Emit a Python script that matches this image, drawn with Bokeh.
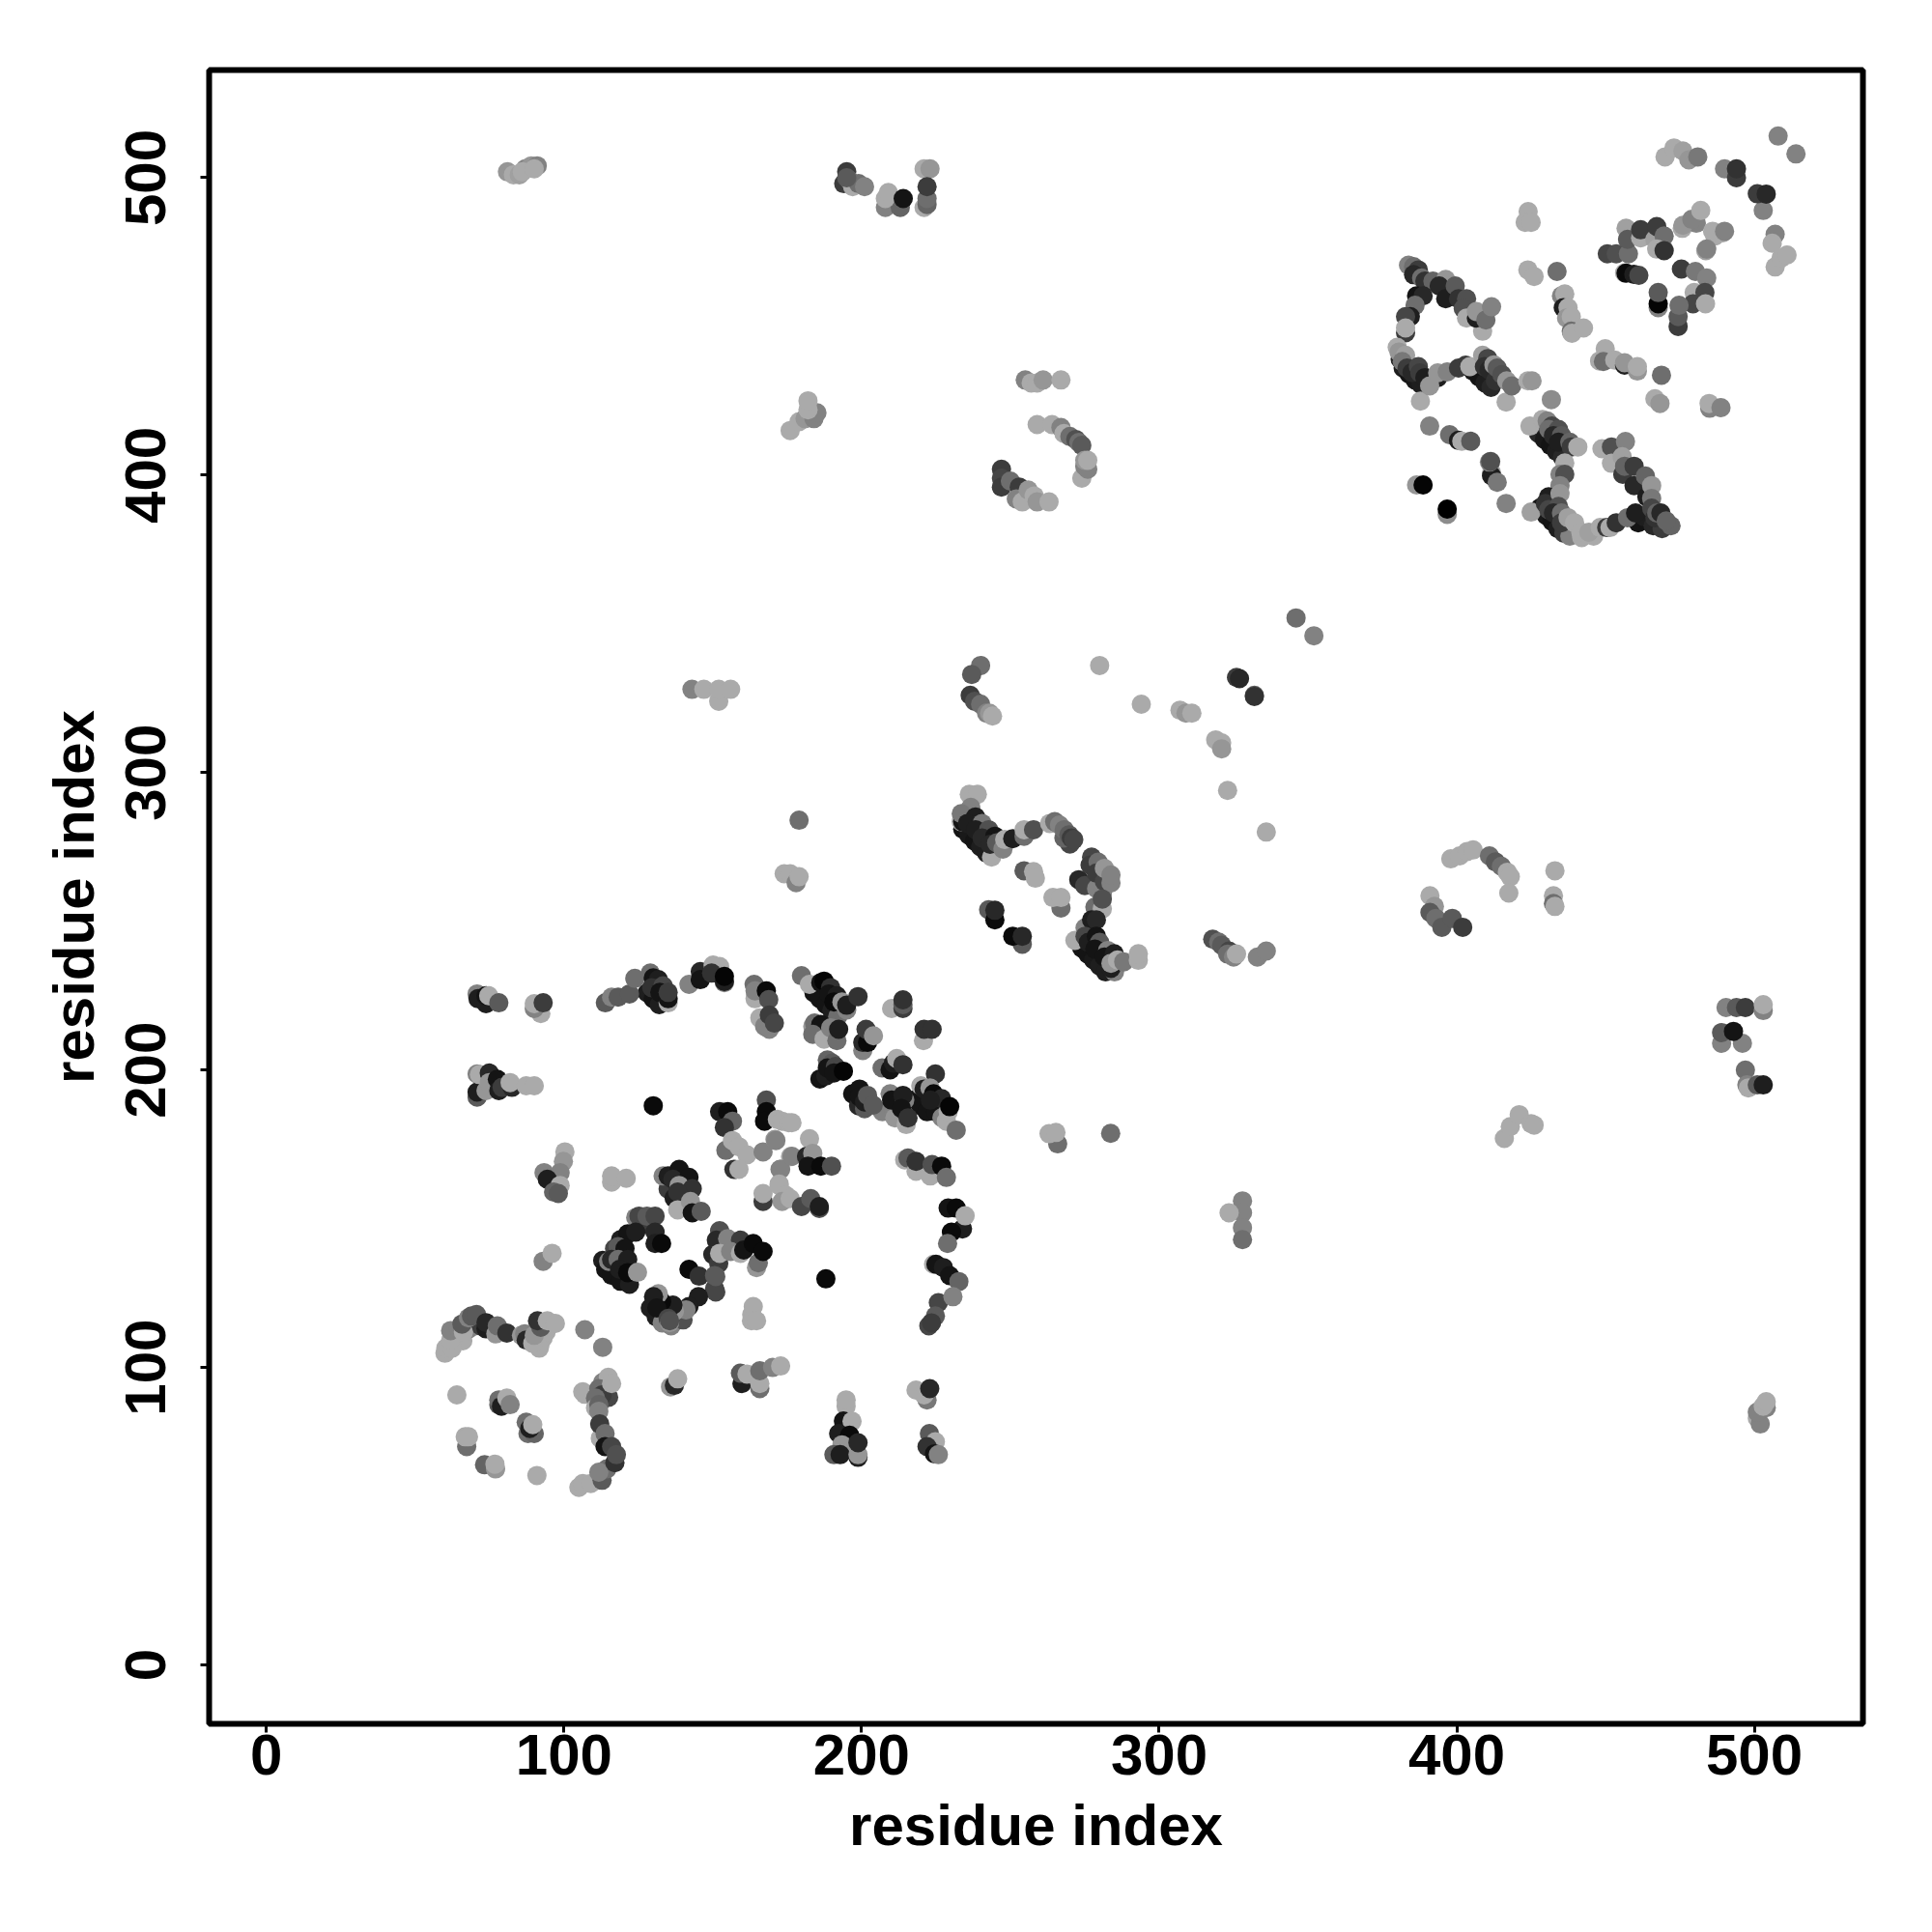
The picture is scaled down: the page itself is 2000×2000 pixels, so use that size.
from bokeh.plotting import figure
from bokeh.models import Range1d, FixedTicker, ColumnDataSource
from bokeh.embed import file_html
from bokeh.resources import INLINE

# every entry: (residue i, residue j, grey level 0-255)
under_loop = [(382,436,30),(384,434,20),(386,432,25),(388,430.5,30),(381,439,40),(405.5,435,25),(407.5,433,20),(409.5,431,30),(411.5,429.5,40),(403,437,60),(427.5,414,40),(429.5,412,25),(431.5,410,20),(433.5,408,30),(435.5,406,40),(428,389,20),(430,386.5,25),(432,384.5,20),(434,382,30),(436,380.5,60),(438,379.5,130),(442,379,170),(446,379.5,170),(461,384,20),(463,386,30),(466,383,40),(469,382,60),(472,383,100)]
under_mid = [(234,281,20),(236,279,25),(238,277,20),(240,275,30),(242,273,30),(270,276,70),(268,278,100),(273,264,40),(275,262,70),(279,261,130),(281,260,130),(274,241,20),(276,239,20),(278,237,25),(280,235,30),(282,233,30),(285,233,130)]
under_low = [(184,226,20),(186,224,20),(188,222,20),(190,220,30),(192,218,110),(128,226,30),(130,224,20),(132,222,30),(186,197,20),(188,198,30),(197,192,20),(199,188,40),(201,187,90),(218,190,20),(220,188,20),(222,186,20),(225,186,20),(227,184,130),(207,186,130),(211,186,130),(213,184,150),(113,136,30),(114,133,20),(116,131,20),(119,129,20),(122,128,30),(129,120,30),(131,117,30),(133,115,130),(136,114,130),(140,116,80),(150,138,40),(152,135,60),(128,148,60),(119,143,30),(117,140,70),(135,160,60),(137,157,30),(139,155,30),(110,91,130),(112,88,90),(113,95,130),(114,92,100),(115,90,70),(64,110,170),(66,109,170),(68,113,130),(70,114,130),(72,114,60),(92,108,170),(93,110,170),(94,112,170)]
far_a = [(81,502,150),(83,501,170),(85,501,160),(87,503,130),(89,504,150),(91,504,130),(86,502,170),(90,503,170)]
far_b = [(195,502,60),(194,498,60),(196,499,130),(197,497,170),(199,498,110),(195,500,90),(201,497,130)]
far_c = [(208,490,130),(213,490,100),(208,493,170),(209,495,170),(214,493,20),(221,490,170),(222,491,100),(222,493,110),(221,503,170),(223,503,150),(222,497,60)]
far_d = [(176,415,170),(179,418,170),(181,419,150),(184,419,130),(185,421,130),(182,422,170),(182,425,170)]
mid_e = [(255,432,130),(257,431,170),(259,431,170),(261,432,150),(267,432,170)]
mid_f = [(259,417,170),(264,417,170),(267,416,130),(268,414,170),(270,413,110),(272,412,80),(273,411,110),(274,410,90),(274,399,170),(275,403,130),(276,402,130),(275,405,150),(276,405,170)]
mid_g = [(247,402,60),(247,399,70),(247,396,60),(250,398,110),(253,396,60),(252,392,130),(254,391,170),(256,395,150),(258,393,170),(259,391,150),(263,391,170)]
loop_up = [(383.8,470.6,130),(385.5,470.1,110),(387.1,469,60),(385.5,467.4,40),(388.2,466.3,110),(389.3,465.2,50),(392,465.2,100),(396.3,465.8,150),(394.1,463.6,40),(396.3,459.3,30),(399.5,463.6,90),(400.6,459.3,50),(403.3,459.3,80),(402.2,456,80),(403.3,452.8,170),(408.7,448.4,170),(406.6,452.8,30),(406.6,455,150),(409.8,452.2,110),(411.7,456.6,130),(386.5,460.3,20),(388.7,460.3,40),(386,457.1,110),(384.4,453.3,30),(382.8,453.3,70),(382.8,447.9,60),(382.8,449.5,170)]
loop_low = [(380,443,170),(380.6,441.4,150),(382.8,440.3,160),(381.7,438.2,120),(383.3,436,60),(385,434.5,40),(387.1,436.5,70),(387.6,434.4,60),(387.8,424.9,170),(389.3,432.8,30),(393.6,432.8,30),(390.9,430,150),(393.6,434.4,150),(396.8,434.7,130),(400.6,436,60),(404.4,436.5,170),(408.7,440.3,160),(410.4,439.2,70),(409.3,436.5,50),(410.9,435.4,40),(413,431.7,50),(412.5,437.1,150),(413.6,436,90),(415.2,433.8,80),(416.6,424.6,170),(416.8,431.7,150),(418.5,430,110)]
loop_iso = [(423.9,431.7,170),(425.3,431.7,150),(431.8,425.4,140),(424.6,416.5,170),(390.9,416.5,130),(397.6,413.6,110),(400.6,411.7,30),(401.7,411.4,170),(404.7,411.4,90),(411.7,400.8,170),(411.7,399.8,30),(411,404.4,130),(411.4,404.6,80),(413.6,397.6,120),(416.6,390.5,130),(425,387.6,160),(386.5,396.7,150),(388.7,396.7,5),(396.8,386.8,140),(396.8,388.6,0)]
loop_down = [(428.8,418.7,170),(430.4,418.2,130),(432,416.5,70),(430.9,415.4,110),(434.2,415.4,80),(432.5,413.3,40),(435.2,413.3,90),(434.2,411.1,30),(438,411.1,100),(438.5,409.5,60),(440.7,409.5,170),(436.3,404.1,170),(434.7,400.3,130),(436.3,400.3,80),(434.7,396.5,130),(430.9,392.7,30),(429.8,390.5,50),(434.7,393.8,150),(430.9,388.4,70),(434.2,389.5,80),(432.5,387.3,40),(435.2,387.3,110),(435.2,384,60),(437.4,385.7,160),(439.6,384,170),(441.7,380.8,170),(444.4,380.8,160),(448.2,382.4,170),(450.4,382.4,60),(451.5,382.4,170),(453.6,384,50),(457.4,385.7,110),(460.1,387.3,30)]
loop_right = [(448.8,408.9,170),(452,409.5,80),(456.7,411.3,130),(452,404,170),(455.6,406.2,160),(455.8,400.3,60),(456.4,403,100),(459.6,403,60),(459.6,396.5,40),(463.4,399.7,100),(463.9,392.7,30),(465.5,396.5,150),(465.5,392.2,120),(465.5,388.9,70),(466.6,385.7,50),(467.2,387.3,100),(468.6,387.3,40),(470.4,384.6,100)]
top_a = [(423.9,469,170),(426,466.8,170),(433.7,468.5,110),(435.2,460.3,130),(436.3,460.9,170),(435.8,456.3,30),(437.4,456.3,170),(436.9,452.8,150),(438.5,453.3,170),(438.5,448.4,110),(438.7,447.7,170),(442.6,449.5,170),(449.9,442.5,170),(448,438.4,170),(449.3,438.2,110),(453.1,438.7,170),(456.4,437,30),(456.4,437.8,150),(460.7,435,150),(460.7,436.5,170),(468.8,433.6,110),(466.6,425.7,170),(468.3,424.1,150),(485,422.5,130),(484.8,424.1,170),(488.8,422.7,130)]
top_b = [(450.6,474.4,70),(453.6,474.4,80),(457.7,474.4,110),(456.9,483,160),(457.4,479.3,90),(461.8,479.8,170),(461.8,482.5,60),(466.6,479.3,160),(467.2,483.6,60),(469.7,480.4,110),(467.2,476,170),(469.7,475.5,50),(475.8,483,170),(480.5,484.7,130),(483.7,475.5,160),(486.7,480.4,170),(489.4,481.5,170),(456.4,468,170),(456.9,467.9,10),(459.5,467.5,30),(461.2,467.2,70)]
top_c = [(467.7,456.3,130),(467.7,457.6,5),(467.7,461.4,90),(475.5,469.3,60),(480.2,468.5,120),(484,466.3,130),(479.8,461.4,170),(483.4,461.4,70),(479.4,457.6,70),(483.6,457.6,170),(474.4,450,60),(474.4,453.3,90),(474.7,457.1,110)]
top_d = [(470,507,170),(473,510,170),(476,509,160),(478,506,150),(481,507,120),(490,503,130),(494,500,60),(494,503,50),(503,489,130),(501,494.6,60),(504,494.5,40),(508,514,130),(514,508,130),(424,488.6,170),(423,485,170),(425,485,170),(476,484,150),(479,486,130),(482,489,170),(486,482,170),(490,482,130),(484,476,130),(507,481,130),(506,478,170),(507,470,170),(509,473,170),(511,474,170)]
mid_strand = [(233.5,283.5,170),(234,283.5,20),(236.2,292.7,170),(238.9,292.7,170),(236.7,288.3,130),(233.5,286.2,120),(238.3,285.1,30),(235.6,282.9,30),(240.5,282.9,120),(238.3,280.8,30),(242.7,280.8,80),(240.5,278,40),(243.7,271.6,170),(244.8,278.6,20),(243.2,275.9,40),(245.4,276.4,90),(247.5,274.3,130),(248.1,277.5,170),(250.8,277.8,30),(254.6,278.6,110),(254.6,280.8,170),(257.8,280.8,80)]
mid_arc = [(263.2,282.9,170),(264.9,283.5,110),(266.5,282.4,130),(268.1,280.8,110),(269.7,279.1,90),(270.5,278,60),(271.3,277.5,70),(277.3,271.6,70),(276.8,268.9,60),(279.5,269.9,110),(278.9,266.2,60),(281.6,263.4,70),(281.6,267.8,150),(283.8,262.9,130),(283.8,265.6,130)]
mid_tail = [(278.4,254.8,110),(280.9,254.2,170),(280.9,257.5,80),(275.1,247.8,130),(271.7,243.6,170),(277.3,250.5,30),(278.9,250.5,40),(275.1,245,70),(276.2,242.9,30),(278.9,245,20),(280,242.9,90),(278.4,240.7,20),(282.7,240.2,130),(281.6,238,20),(283.8,234.2,30),(284.9,239.1,30),(283.8,235.9,150),(286,237,170),(288.1,236.4,120),(293,236.9,170),(293,239.1,170)]
mid_bits = [(254.6,267,90),(257.8,266.7,170),(258.4,264.5,170),(267,254.5,110),(264.3,258,170),(267,258,170),(242.7,253.9,90),(244.8,250.5,10),(244.8,253.7,40),(254,242.3,90),(250.8,245,10),(254,245,40)]
group_h = [(240,336,110),(237,333,90),(236.5,326,60),(238,324,80),(240,323,110),(242,320,130),(243,320,150),(244,319,170),(346,352,110),(352,346,130)]
group_i = [(280,336,170),(294,323,170),(307,321,170),(309,320,150),(311,320,170),(319,311,170),(321,310,170),(321,308,150),(326,332,60),(327,331.6,40),(332,326,90),(332,325.6,50),(323,294,170),(336,280,170)]
group_j = [(143,328,130),(147,328,170),(152,324,170),(152,328,170),(156,328,170),(179,284,110),(174,266,170),(176,266,170),(178,263,130),(179,265,170)]
group_k = [(318,244,80),(320,243,110),(321,242,90),(323.5,240,70),(323,239,110),(325,238,130),(326,239,170),(333,238,130),(336,240,130)]
group_l = [(398,271,170),(401,272,170),(403.5,273.5,170),(405.5,274,170),(411,272,110),(413,270,90),(415,268.5,110),(417,266.5,170),(418,265,170),(417.5,259.5,170),(391,258.6,170),(392.5,255,150),(391,253,90),(393,251,110),(395,248,90),(398.5,251,90),(402,248,60),(433,267,170),(432.5,258.6,170),(432.5,256,110),(433,255,170)]
group_m = [(490.5,221,130),(494,221,90),(497,221,60),(503,220,130),(503,222,170),(489,209,130),(489,212.6,90),(496,209,130),(493,213,20),(497,200,110),(497.5,195,130),(498,194,170),(501,195,90),(503,195,30),(416,177,170),(418,181,170),(421,185,170),(425,182,170),(426,181.5,170)]
group_n = [(328,156,130),(328,152,130),(323.5,152,170),(328,147,130),(328,143,110),(283.7,178.7,110),(265.9,175.2,110),(263,178.6,170),(265.3,179,170),(501,83,170),(502,81,130),(501,85,130),(504,86.5,130),(503,87,170),(504,88.5,170)]
low_left = [(70.8,190.9,90),(70.8,192.6,30),(73.8,193.1,150),(70.8,198.7,130),(71.6,198.5,170),(74.9,199,40),(74.9,195.8,150),(77.6,196.9,20),(78.1,193.1,30),(79.2,194.2,60),(82.5,194.2,40),(81.9,195.8,170),(87.3,194.7,170),(90,194.7,170)]
low_top = [(70.8,225.6,130),(71.1,224,30),(73.8,222.3,30),(73.8,225,20),(74.7,225,170),(78.1,222.6,90),(92.2,219,170),(90,220.7,130),(90,222.3,170),(93,222.6,60),(113.9,222.6,90),(116,224.5,130),(118.2,224.5,90),(122,225.6,90),(123.8,230.8,110),(129,232.6,110),(130,231,20),(131.7,230.4,30),(129.5,227.7,50),(133.3,228.3,70),(132.2,226.1,20),(135,222.6,170),(135,224,20),(135,226.1,60),(142,228.8,130),(145.8,233.1,40),(145.8,230.4,20),(150.1,235.3,170),(152.3,234.8,170),(149.6,232.6,50),(153.9,229.4,130),(153.9,229.8,30),(153.9,231.5,5),(163.9,228.8,110),(164.2,224,170),(164.2,226.6,130),(168,226.6,10),(168.8,223.7,80),(165.8,217.5,170),(167.4,214.7,130),(169,213.7,130),(169,218.5,60),(170.7,215.8,70)]
low_dia_a = [(179.8,231.7,110),(182.5,228.8,170),(186.3,229.4,20),(187.4,229.9,5),(189.6,227.7,50),(189,225.6,20),(191.7,225,30),(190.7,222.9,10),(195,220.2,130),(193.4,222.9,150),(195,221.8,30),(198.8,224.7,50),(210.1,220.7,170),(213.9,220.7,60),(213.9,222,90),(213.9,223.6,50)]
low_dia_b = [(183.6,214.7,150),(184.2,215.8,110),(186.3,215.3,20),(183.6,212,110),(187.4,210.4,170),(189.6,214.2,130),(191.7,209.9,110),(192.3,213.7,30),(200.4,206.6,130),(200.4,209.3,40),(202,209.3,10),(201.5,213.7,60),(204,211.5,150),(220.8,209.9,170),(221,213.7,50),(223.7,213.7,50)]
low_dia_c = [(188.5,203.4,100),(190.1,202.3,90),(188.5,200.7,20),(191.2,201.2,70),(190.7,199,20),(193.9,199.6,5),(206.9,200.7,110),(209.6,200.1,20),(210.7,202.3,30),(211.8,203.9,170),(213.9,201.8,50),(224.8,198.7,50),(219.9,194.7,170),(221,193.6,30),(223,194,150),(224.2,192,10),(226.9,190.4,40),(223.1,189.9,30),(228.5,182.8,170),(229.1,186,170),(229.6,187.7,5),(231.8,179.8,110)]
low_dia_d = [(199.3,193.6,20),(199.3,191,20),(201,189.3,30),(202,191.5,90),(203.9,188.2,90),(209.6,192,130),(211.2,183.9,150),(210.1,189.9,20),(214.5,189.9,130),(213.9,191.5,30),(213.4,187.1,20),(215,181.7,170),(215.6,183.9,50)]
low_side = [(214.5,169.8,170),(215.6,170.4,90),(218.3,166,170),(218.3,169.3,50),(223.1,164.4,170),(223.7,168.2,80),(226.9,167.7,10),(228.5,163.9,110),(229.1,153.6,20),(231.8,153.6,10),(233.9,146.6,30),(230.2,145.5,10),(234.8,151,170),(228.9,141.7,110),(224.2,134.7,170),(225,134.7,20),(227.5,133.6,30),(229.6,130.9,20),(232.7,128.9,100),(225.8,121.8,70),(230.7,123.8,130),(224.8,117.3,90),(222.6,114,70),(223.5,115,60),(188,129.8,10),(218.3,92.4,170),(222,89.1,120),(221,90.8,170),(222.9,92.9,40),(222.8,77.8,90),(224.8,75,170),(222,73.4,50),(224.5,71,20),(225.8,70.7,130),(194.8,87,170),(194.8,89.1,170),(193.9,82,20),(196.8,81.9,170),(192.3,77.8,30),(196,77.2,10),(193.4,74,150),(190.7,70.7,90),(192.8,70.7,30),(198.8,69.8,30),(198.8,70.7,150),(198.8,74.7,40)]
low_mid_a = [(152.3,186,30),(155,186,10),(156.6,182.8,100),(153.9,180.7,50),(168,189.9,80),(168,186,10),(167.4,182.8,10),(171.7,183.4,170),(173.3,182.8,170),(175.5,182.3,170),(176.6,182.3,170),(154.4,173,110),(156.6,176.3,170),(158.8,174.2,170),(161.5,171.5,170),(166.9,172.5,130),(170.9,176.7,150),(157.1,166.6,50),(158.8,166.6,170),(176.1,170.9,170),(171.2,176.3,130),(172.6,166.6,130),(172.8,166.6,130),(166.9,155.8,60),(166.9,158.5,170),(172.3,161.7,170),(172.3,161.2,170),(174.5,157.9,170),(173.3,155.8,150),(176,156.8,170),(179.8,154.1,70),(182.9,156.8,90),(185.8,153.5,80),(185.8,154.1,30)]
low_mid_b = [(176.6,171,130),(182.5,176.9,170),(181.5,170.4,110),(181.5,171,40),(183.6,172,150),(182,167.7,20),(186.3,167.7,10),(189.9,167.7,80)]
low_helix_a = [(93,135.7,130),(96,138.4,170),(100.3,172.5,170),(99.8,169.3,150),(98.7,165.5,130),(93.3,165.5,130),(94.4,163.3,30),(98.7,161.2,170),(96.5,159,100),(98.1,158.5,90),(116,162.3,170),(116,164.4,170),(120.9,163.6,170)]
low_helix_b = [(133.3,164.4,130),(135,164.4,30),(138.7,166.6,20),(136.6,163.3,40),(142,163.9,20),(138.7,161.2,150),(143.1,160.1,50),(138.2,159,50),(138.2,153,170),(142.5,155.8,150),(143.1,152,20),(146.1,152.5,90)]
low_ring = [(124.1,150.4,130),(125.2,150.9,70),(127.9,150.9,90),(130.6,150.9,70),(121.4,144.9,20),(124.1,145.5,30),(130.6,145.5,40),(130.6,141.7,30),(132.8,141.7,10),(118.2,140.6,90),(120.5,140,20),(115,135.7,130),(116,136.3,40),(118.2,136.3,110),(121.4,136.3,30),(118.7,133,30),(121.4,131.9,10),(124.7,132,150)]
low_ring2 = [(152.3,146,80),(151.2,142.8,40),(155,143.3,130),(159.3,142.8,60),(152.3,138.4,170),(156,139,130),(159.3,138.4,170),(160.4,139.5,20),(163.6,141.7,10),(164.7,133.6,150),(165.3,135.2,110),(166.9,139,10),(142,133,10),(145.4,130.7,50),(150.6,126.5,70),(150.6,130.9,90)]
low_ring3 = [(151,125.4,70),(151,130.6,90),(145.2,123.8,30),(142,120.5,30),(141,119.4,130),(137.1,118.9,150),(136.6,121,30),(132.8,122.1,10),(131.7,124.8,150),(130.1,123.8,30),(131.2,120,20),(135,116.5,70),(135.5,115.1,150),(135.5,115.7,80),(163.1,117.8,170),(163.6,120.5,170),(163,115.7,170),(164.7,115.7,170)]
low_arc = [(60,104.8,170),(60.3,106.5,170),(62.4,106.5,170),(61.9,109.2,170),(61.9,112.4,130),(64.6,113,130),(66.2,111.9,170),(65.7,114.6,90),(67.9,116.7,130),(68.9,117.3,90),(70.6,117.8,90),(73.8,113,30),(73.8,115.1,40),(77.1,111.3,150),(77.6,114,110),(80.8,111.6,50),(85.7,110.8,150),(86.8,111.3,130),(91.7,106.5,170),(87.3,109.2,40),(89.5,108.1,170),(90,110.8,150),(92.2,113.5,90),(91.1,115.7,50),(94.4,115.7,170),(97.1,114.8,170),(107,112.7,130),(113,106.8,130)]
low_pts = [(64,90.8,170),(78.1,87.5,90),(78.1,89.1,110),(79,87,30),(80.8,89.7,170),(81.9,87.5,130),(87.9,77.8,110),(90,77.8,100),(87.3,81.6,110),(88.5,79.5,30),(89.5,80.8,170),(67.3,73.4,110),(66.8,76.7,170),(67.9,76.7,170),(73.3,67.3,100),(77,65.9,150),(76.8,67.5,170),(90.9,63.7,170)]
low_coil = [(106.3,91.8,170),(107,91,170),(114.9,96.7,170),(111.7,92.9,110),(112.8,90.8,60),(110.6,89.7,110),(110.6,86.4,170),(111.7,87.5,100),(111.7,85.3,130),(116,94.6,170),(112.2,76.2,170),(112,81,60),(113.8,77.8,110),(113.8,73.4,20),(116,73.4,70),(105,59.7,170),(106.3,61,170),(109,61,170),(112.8,62.1,90),(114.4,65.9,110),(111.7,64.8,130),(117.1,68,50),(117.6,70.7,80)]
low_end = [(159.8,94.6,30),(159.3,98.1,90),(161.5,97.8,170),(165.8,92.9,110),(165.8,94.6,170),(165.8,98.9,110),(170.1,100,130),(172.8,100.5,170),(135.8,93.5,150),(137.1,94,40),(138.2,96.2,170),(130,188,10)]

clusters = [under_loop, under_mid, under_low, far_a, far_b, far_c, far_d, mid_e, mid_f, mid_g, loop_up, loop_low, loop_iso, loop_down, loop_right, top_a, top_b, top_c, top_d, mid_strand, mid_arc, mid_tail, mid_bits, group_h, group_i, group_j, group_k, group_l, group_m, group_n, low_left, low_top, low_dia_a, low_dia_b, low_dia_c, low_dia_d, low_side, low_mid_a, low_mid_b, low_helix_a, low_helix_b, low_ring, low_ring2, low_ring3, low_arc, low_pts, low_coil, low_end]

tick_values = [0, 100, 200, 300, 400, 500]
x_title = "residue index"
y_title = "residue index"

xs, ys, cols = [], [], []
for c in clusters:
    for i, j, g in c:
        xs.append(i); ys.append(j); cols.append("#%02x%02x%02x" % (g, g, g))
src = ColumnDataSource(dict(x=xs, y=ys, c=cols))

p = figure(output_backend="svg", toolbar_location=None,
           x_range=Range1d(-19.25, 536.5), y_range=Range1d(-19.8, 536.2),
           frame_width=1712, frame_height=1712,
           min_border_left=216, min_border_right=56, min_border_top=72, min_border_bottom=0)
p.grid.visible = False
p.background_fill_color = "white"
p.border_fill_color = "white"
p.outline_line_color = "black"
p.outline_line_width = 6
p.scatter("x", "y", source=src, size=20, fill_color="c", line_color=None)

for ax in (p.xaxis[0], p.yaxis[0]):
    ax.ticker = FixedTicker(ticks=tick_values)
    ax.axis_line_color = None
    ax.major_tick_line_color = "black"
    ax.major_tick_line_width = 3
    ax.major_tick_in = 0
    ax.major_tick_out = 9
    ax.minor_tick_line_color = None
    ax.major_label_text_font = "Liberation Sans"
    ax.major_label_text_font_style = "bold"
    ax.major_label_text_font_size = "60px"
    ax.major_label_text_color = "black"
    ax.axis_label_text_font = "Liberation Sans"
    ax.axis_label_text_font_style = "bold"
    ax.axis_label_text_font_size = "60px"
    ax.axis_label_text_color = "black"
p.xaxis[0].axis_label = x_title
p.yaxis[0].axis_label = y_title
p.yaxis[0].major_label_orientation = "vertical"
p.xaxis[0].major_label_standoff = 2
p.yaxis[0].major_label_standoff = 36
p.xaxis[0].axis_label_standoff = 16
p.yaxis[0].axis_label_standoff = 18

open("out.html", "w").write(file_html(p, INLINE))
